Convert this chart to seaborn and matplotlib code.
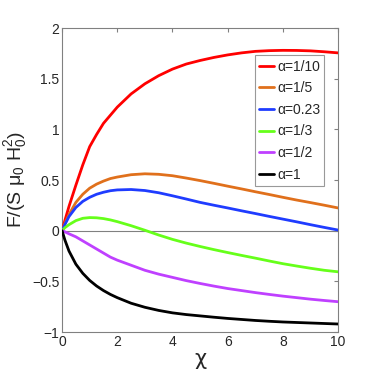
import numpy as np
import pandas as pd
import seaborn as sns
import matplotlib.pyplot as plt

# values
chi = [0, 0.1, 0.25, 0.5, 0.75, 1, 1.25, 1.5, 1.75, 2, 2.5, 3, 3.5, 4, 4.5,
       5, 5.5, 6, 6.5, 7, 7.5, 8, 8.5, 9, 9.5, 10]
f_a10 = [0, 0.10, 0.24, 0.45, 0.65, 0.83, 0.95, 1.06, 1.14, 1.22, 1.35, 1.45, 1.53,
         1.595, 1.645, 1.68, 1.71, 1.735, 1.755, 1.77, 1.777, 1.78, 1.779, 1.775, 1.766, 1.755]
f_a5 = [0, 0.07, 0.16, 0.28, 0.36, 0.42, 0.46, 0.49, 0.515, 0.53, 0.553, 0.562, 0.557,
        0.543, 0.52, 0.495, 0.468, 0.44, 0.413, 0.385, 0.358, 0.33, 0.303, 0.278, 0.252, 0.225]
f_a023 = [0, 0.06, 0.14, 0.23, 0.29, 0.33, 0.36, 0.38, 0.395, 0.403, 0.407, 0.397, 0.375,
          0.345, 0.313, 0.28, 0.252, 0.225, 0.197, 0.17, 0.142, 0.115, 0.088, 0.06, 0.033, 0.007]
f_a3 = [0, 0.03, 0.06, 0.10, 0.123, 0.13, 0.128, 0.12, 0.107, 0.09, 0.05, 0.005, -0.042,
        -0.085, -0.122, -0.155, -0.186, -0.215, -0.243, -0.27, -0.298, -0.325, -0.348, -0.37, -0.39, -0.405]
f_a2 = [0, -0.01, -0.03, -0.06, -0.10, -0.14, -0.18, -0.22, -0.26, -0.29, -0.34, -0.39, -0.428,
        -0.46, -0.492, -0.52, -0.546, -0.57, -0.59, -0.61, -0.628, -0.645, -0.66, -0.675, -0.688, -0.70]
f_a1 = [0, -0.09, -0.2, -0.33, -0.42, -0.49, -0.545, -0.59, -0.628, -0.66, -0.715, -0.755, -0.786,
        -0.81, -0.827, -0.84, -0.853, -0.865, -0.875, -0.885, -0.893, -0.90, -0.905, -0.91, -0.915, -0.92]

labels = ['α=1/10', 'α=1/5', 'α=0.23', 'α=1/3', 'α=1/2', 'α=1']
colors = ['#ff0000', '#e0701c', '#1f3cff', '#66ff1a', '#bf40ff', '#000000']

df = pd.concat([
    pd.DataFrame({'chi': chi, 'F': ys, 'alpha': lab})
    for ys, lab in zip([f_a10, f_a5, f_a023, f_a3, f_a2, f_a1], labels)
])

sns.set_style('white')
plt.rcParams['font.family'] = ['Liberation Sans', 'DejaVu Sans']
plt.rcParams['mathtext.fontset'] = 'custom'
plt.rcParams['mathtext.rm'] = 'Liberation Sans'
plt.rcParams['mathtext.it'] = 'Liberation Sans'

fig = plt.figure(figsize=(3.74, 3.74), dpi=100)
ax = fig.add_axes([0.166, 0.112, 0.738, 0.813])

ax.axhline(0, color='#808080', lw=0.8, zorder=1)
sns.lineplot(data=df, x='chi', y='F', hue='alpha', palette=colors,
             hue_order=labels, lw=2, ax=ax, sort=False, zorder=3)

ax.set_xlim(0, 10)
ax.set_ylim(-1, 2)
ax.set_xticks([0, 2, 4, 6, 8, 10])
ax.set_yticks([-1, -0.5, 0, 0.5, 1, 1.5, 2])
ax.set_yticklabels(['−1', '−0.5', '0', '0.5', '1', '1.5', '2'])
ax.tick_params(direction='in', length=3, color='#808080', labelsize=10,
               top=True, right=True, pad=2)
for s in ax.spines.values():
    s.set_color('#808080')
    s.set_linewidth(0.8)

ax.set_xlabel('χ', fontsize=15, labelpad=0, family=['DejaVu Sans'])
ax.set_ylabel(r'F/(S $\mathregular{\mu_0}$ $\mathregular{H_0^2}$)', fontsize=14, labelpad=2)

leg = ax.legend(loc='upper right', bbox_to_anchor=(0.95, 0.91), fontsize=10,
                frameon=True, fancybox=False, edgecolor='#808080',
                handlelength=1.1, handletextpad=0.2, borderpad=0.3,
                labelspacing=0.55, borderaxespad=0)
leg.get_frame().set_linewidth(0.8)

fig.savefig('out.png', dpi=100)
